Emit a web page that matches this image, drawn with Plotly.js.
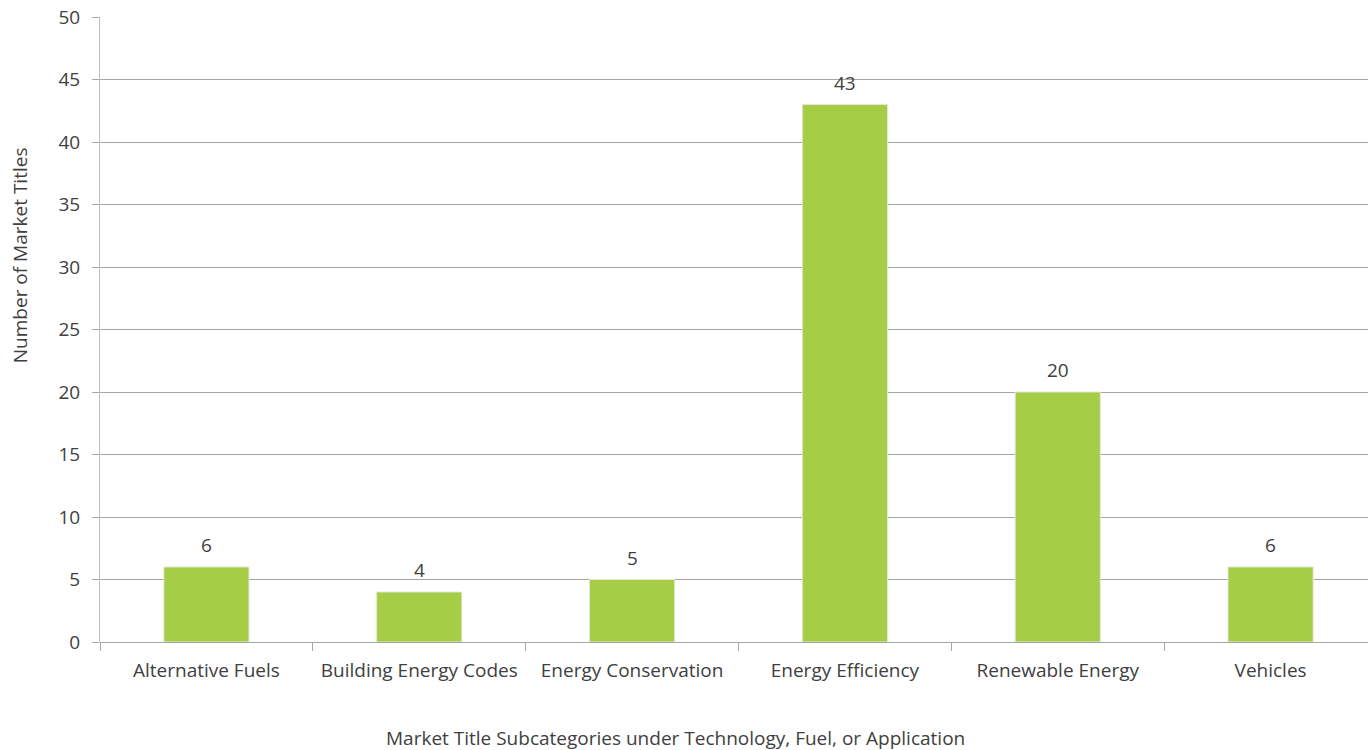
<!DOCTYPE html>
<html>
<head>
<meta charset="utf-8">
<script src="https://cdn.plot.ly/plotly-3.0.1.min.js"></script>
<style>html,body{margin:0;padding:0;background:#fff;overflow:hidden;}#chart{width:1377px;height:750px;}</style>
</head>
<body>
<div id="chart"></div>
<script>
const categories = ["Alternative Fuels", "Building Energy Codes", "Energy Conservation", "Energy Efficiency", "Renewable Energy", "Vehicles"];
const counts = [6, 4, 5, 43, 20, 6];
const yTickValues = [0, 5, 10, 15, 20, 25, 30, 35, 40, 45, 50];
const xTitle = "Market Title Subcategories under Technology, Fuel, or Application";
const yTitle = "Number of Market Titles";

const textColor = "#404040";
const fontFamily = "'Open Sans', 'Noto Sans', sans-serif";
const fontSize = 19;

const trace = {
  type: "bar",
  x: categories,
  y: counts,
  marker: {color: "#a5cd45", line: {color: "#e2e8d6", width: 1}},
  hoverinfo: "x+y"
};

const labelAnnotations = categories.map((c, i) => ({
  x: c,
  y: counts[i],
  xref: "x",
  yref: "y",
  text: String(counts[i]),
  showarrow: false,
  yanchor: "bottom",
  yshift: 7,
  font: {family: fontFamily, size: fontSize, color: textColor}
}));

const titleAnnotations = [
  {
    text: xTitle, xref: "paper", yref: "paper", x: 0.451, y: -0.1536,
    xanchor: "center", yanchor: "middle", showarrow: false,
    font: {family: fontFamily, size: fontSize, color: textColor}
  },
  {
    text: yTitle, xref: "paper", yref: "paper", x: -0.0626, y: 0.619,
    xanchor: "center", yanchor: "middle", textangle: -90, showarrow: false,
    font: {family: fontFamily, size: fontSize, color: textColor}
  }
];

const layout = {
  width: 1377,
  height: 750,
  margin: {l: 100, r: 0, t: 17, b: 108},
  paper_bgcolor: "#ffffff",
  plot_bgcolor: "#ffffff",
  bargap: 0.6,
  showlegend: false,
  font: {family: fontFamily, size: fontSize, color: textColor},
  annotations: labelAnnotations.concat(titleAnnotations),
  xaxis: {
    type: "category",
    range: [-0.5, 5.5],
    showgrid: false,
    showline: false,
    zeroline: false,
    ticks: "outside",
    tickson: "boundaries",
    ticklen: 8,
    tickcolor: "#a6a6a6",
    tickwidth: 1,
    ticklabelstandoff: 15,
    tickfont: {family: fontFamily, size: fontSize, color: textColor}
  },
  yaxis: {
    range: [0, 50],
    tickvals: yTickValues,
    ticktext: yTickValues.map(String),
    showgrid: true,
    gridcolor: "#a6a6a6",
    gridwidth: 1,
    zeroline: true,
    zerolinecolor: "#a6a6a6",
    zerolinewidth: 1,
    showline: true,
    linecolor: "#bfbfbf",
    linewidth: 1,
    ticks: "outside",
    ticklen: 7,
    tickcolor: "#a6a6a6",
    ticklabelstandoff: 8,
    tickfont: {family: fontFamily, size: fontSize, color: textColor}
  }
};

Plotly.newPlot("chart", [trace], layout, {displayModeBar: false, staticPlot: true});
</script>
</body>
</html>
